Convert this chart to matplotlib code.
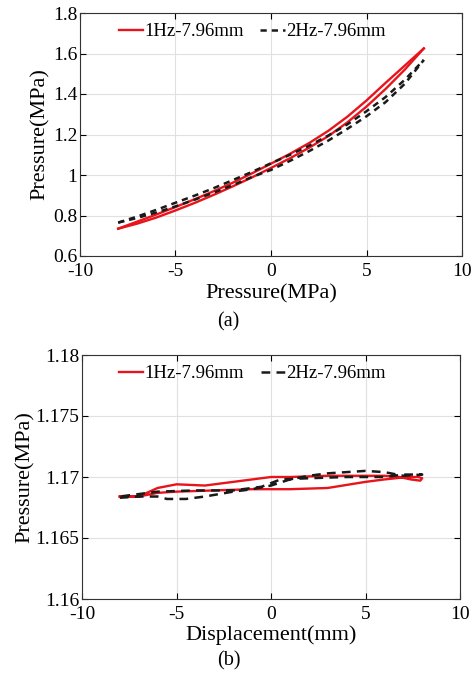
import matplotlib.pyplot as plt

plt.rcParams['font.family'] = ['Liberation Serif', 'DejaVu Serif']
plt.rcParams['axes.unicode_minus'] = False

# (a) pressure loops, every 1 unit
xa = [-8, -7, -6, -5, -4, -3, -2, -1, 0, 1, 2, 3, 4, 5, 6, 7, 8]
red_a_up = [0.735, 0.77, 0.805, 0.842, 0.88, 0.92, 0.962, 1.008, 1.056, 1.105,
            1.158, 1.218, 1.288, 1.368, 1.455, 1.54, 1.625]
red_a_lo = [0.735, 0.76, 0.79, 0.825, 0.862, 0.902, 0.944, 0.988, 1.035, 1.083,
            1.135, 1.192, 1.26, 1.338, 1.425, 1.52, 1.625]
blk_a_up = [0.765, 0.795, 0.828, 0.863, 0.898, 0.935, 0.975, 1.015, 1.058, 1.10,
            1.145, 1.195, 1.25, 1.315, 1.385, 1.47, 1.568]
blk_a_lo = [0.765, 0.788, 0.815, 0.845, 0.878, 0.913, 0.95, 0.99, 1.025, 1.07,
            1.118, 1.17, 1.228, 1.29, 1.36, 1.45, 1.568]

# (b) pressure vs displacement
xb_red = [-8, -7, -6, -5, -3.5, -2, -0.5, 0, 1, 3, 5, 6, 6.8, 7.4, 7.9, 8, 7.8, 7.2,
          6, 5, 3, 1, -1, -3, -5, -6, -7, -8]
red_b = [1.1684, 1.1684, 1.1691, 1.1694, 1.1693, 1.1696, 1.1699, 1.1700, 1.1700,
         1.1701, 1.1701, 1.1701, 1.1700, 1.1698, 1.1697, 1.1699, 1.1700, 1.1700,
         1.1698, 1.1696, 1.1691, 1.1690, 1.1690, 1.1689, 1.1688, 1.1687, 1.1684, 1.1684]
xb_blk = [-8, -7, -6, -5.5, -4.5, -3.5, -2, -1, 0, 1, 2, 3, 4, 5, 6, 7, 8,
          7, 6, 4, 2, 0.5, -0.5, -2, -4, -6, -8]
blk_b = [1.1683, 1.1684, 1.1684, 1.1682, 1.1682, 1.1684, 1.1688, 1.1690, 1.1693,
         1.1698, 1.1701, 1.1703, 1.1704, 1.1705, 1.1704, 1.1701, 1.1702,
         1.1702, 1.1700, 1.1700, 1.1699, 1.1698, 1.1692, 1.1689, 1.1689, 1.1688, 1.1684]

fig = plt.figure(figsize=(4.76, 6.73), dpi=100)
ax1 = fig.add_axes([80/476, 1-256/673, 382/476, 243/673])
ax2 = fig.add_axes([82/476, 1-599/673, 378/476, 244/673])

red = '#e8141c'
blk = '#1a1a1a'
ax1.plot(xa, red_a_up, color=red, lw=1.7, label='1Hz-7.96mm')
ax1.plot(xa, red_a_lo, color=red, lw=1.7)
ax1.plot(xa, blk_a_up, color=blk, lw=1.8, ls=(0, (2.5, 2)), label='2Hz-7.96mm')
ax1.plot(xa, blk_a_lo, color=blk, lw=1.8, ls=(0, (2.5, 2)))
ax1.set_ylim(0.6, 1.8)
ax1.set_yticks([0.6, 0.8, 1.0, 1.2, 1.4, 1.6, 1.8])
ax1.set_yticklabels(['0.6', '0.8', '1', '1.2', '1.4', '1.6', '1.8'])
ax1.set_xlabel('Pressure(MPa)', fontsize=16, labelpad=3)
ax1.set_ylabel('Pressure(MPa)', fontsize=16, labelpad=2)

ax2.plot(xb_red, red_b, color=red, lw=1.7, label='1Hz-7.96mm')
ax2.plot(xb_blk, blk_b, color=blk, lw=1.8, ls=(0, (3.5, 2.5)), label='2Hz-7.96mm')
ax2.set_ylim(1.16, 1.18)
ax2.set_yticks([1.16, 1.165, 1.17, 1.175, 1.18])
ax2.set_yticklabels(['1.16', '1.165', '1.17', '1.175', '1.18'])
ax2.set_xlabel('Displacement(mm)', fontsize=16, labelpad=2)
ax2.set_ylabel('Pressure(MPa)', fontsize=16, labelpad=0)

for ax in (ax1, ax2):
    ax.set_xlim(-10, 10)
    ax.set_xticks([-10, -5, 0, 5, 10])
    ax.grid(True, color='#e0e0e0', lw=0.8)
    ax.tick_params(direction='in', top=True, right=True, labelsize=14, length=4, pad=2)
    ax.tick_params(axis='x', pad=5)
    for s in ax.spines.values():
        s.set_color('#333333')
    ax.legend(loc='upper center', bbox_to_anchor=(0.45, 1.0), ncol=2,
              frameon=False, fontsize=13.5, handlelength=1.3, columnspacing=0.9,
              handletextpad=0.05, borderaxespad=0.15)

fig.text(0.48, 1-322/673, '(a)', ha='center', va='center', fontsize=14.5)
fig.text(0.48, 1-661/673, '(b)', ha='center', va='center', fontsize=14.5)

fig.savefig('out.png', dpi=100)
